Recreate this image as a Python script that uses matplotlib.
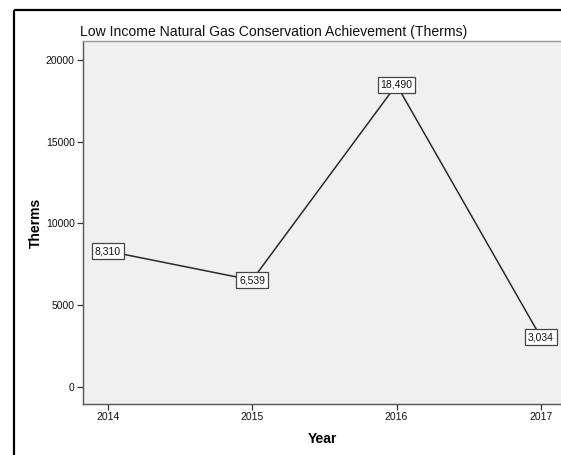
import matplotlib
matplotlib.use("Agg")
import matplotlib.pyplot as plt
from matplotlib.lines import Line2D

years = [2014, 2015, 2016, 2017]
therms = [8310, 6539, 18490, 3034]
point_labels = ["8,310", "6,539", "18,490", "3,034"]
yticks = [0, 5000, 10000, 15000, 20000]

plt.rcParams['font.family'] = ['Liberation Sans', 'DejaVu Sans']

W, H = 561, 455
fig = plt.figure(figsize=(W / 100, H / 100), dpi=100)
fig.patch.set_facecolor('white')

L, R, T, B = 83, 562, 41, 404
ax = fig.add_axes([L / W, 1 - B / H, (R - L) / W, (B - T) / H])
ax.set_facecolor('#f0f0f0')

ax.plot(years, therms, color='#2a2a2a', lw=1.1, zorder=2)
for x, y, s in zip(years, therms, point_labels):
    ax.text(x, y, s, ha='center', va='center', fontsize=7.5, color='#111111', zorder=3,
            bbox=dict(boxstyle='square,pad=0.28', fc='white', ec='#444444', lw=0.9))

ax.set_xlim(2013.829, 2017.146)
ax.set_ylim(-1040, 21162)
ax.set_xticks(years)
ax.set_xticklabels([str(y) for y in years])
ax.set_yticks(yticks)
ax.set_yticklabels([str(v) for v in yticks])
ax.tick_params(axis='both', labelsize=7.5, length=4, width=0.9, color='#333333',
               labelcolor='#111111', pad=2)

for side in ['left', 'bottom']:
    ax.spines[side].set_color('#555555')
    ax.spines[side].set_linewidth(1.0)
ax.spines['top'].set_color('#999999')
ax.spines['top'].set_linewidth(1.0)
ax.spines['right'].set_visible(False)

ax.set_ylabel('Therms', fontsize=10, fontweight='bold', labelpad=2)
ax.set_xlabel('Year', fontsize=10, fontweight='bold', labelpad=7)

fig.text(80 / W, 1 - 32 / H, 'Low Income Natural Gas Conservation Achievement (Therms)',
         ha='left', va='center', fontsize=10.1, color='#111111')

# black frame (left and top)
fig.add_artist(Line2D([13.5 / W, 13.5 / W], [1 - 10 / H, 0], transform=fig.transFigure,
                      color='black', lw=1.6, solid_capstyle='butt'))
fig.add_artist(Line2D([13.5 / W, 1.0], [1 - 10 / H, 1 - 10 / H], transform=fig.transFigure,
                      color='black', lw=1.6, solid_capstyle='butt'))

fig.savefig('out.png', dpi=100)
